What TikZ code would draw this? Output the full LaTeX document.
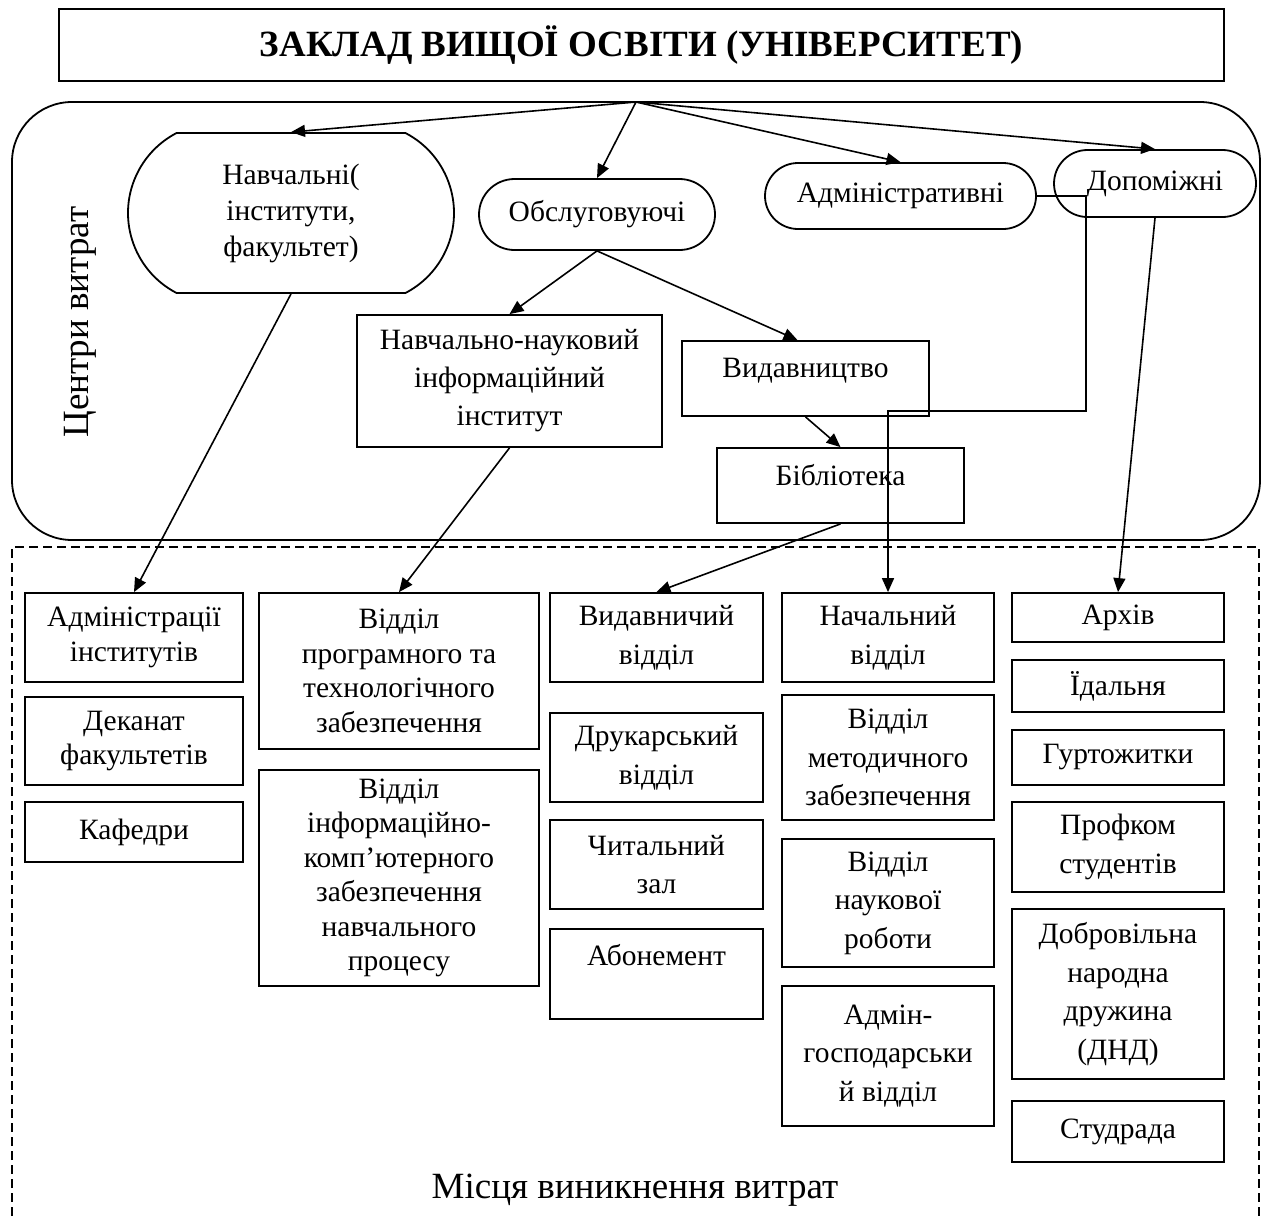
\documentclass[tikz,border=0pt]{standalone}
\usepackage{fontspec}
\setmainfont{Liberation Serif}[BoldFont={Liberation Serif Bold}]
\usepackage{tikz}
\usetikzlibrary{shapes.misc}
\usetikzlibrary{arrows.meta}

\begin{document}
\begin{tikzpicture}[x=1pt, y=-1pt, line width=1.8pt,
  every node/.style={align=center, inner sep=2pt},
  costc/.style={draw, rounded rectangle, font=\fontsize{29.5}{36}\selectfont},
  costbox/.style={draw, rectangle, font=\fontsize{29.5}{38}\selectfont},
  place/.style={draw, rectangle, font=\fontsize{29.5}{34.5}\selectfont},
  placewide/.style={place, font=\fontsize{29.5}{38.5}\selectfont},
  arr/.style={-{Triangle[length=14pt,width=12pt]}, line width=1.6pt}]
\useasboundingbox (0,0) rectangle (1265,1216);

\node[draw, minimum width=1165pt, minimum height=72pt, font=\fontsize{37}{40}\selectfont\bfseries] (U) at (641.5,45) {ЗАКЛАД ВИЩОЇ ОСВІТИ (УНІВЕРСИТЕТ)};

\draw[rounded corners=60pt] (12,102) rectangle (1260,540);
\coordinate (hub) at (636,102);
\node[rotate=90, font=\fontsize{37}{40}\selectfont] (CT) at (80,322) {Центри витрат};

\node[costc, rounded rectangle arc length=125, minimum width=330pt, minimum height=160pt] (C1) at (291,213) {Навчальні(\\інститути,\\факультет)};
\node[costc, minimum width=240pt, minimum height=71pt] (C2) at (597,214.5) {Обслуговуючі};
\node[costc, minimum width=275pt, minimum height=66pt] (C3) at (900.5,196) {Адміністративні};
\node[costc, minimum width=206pt, minimum height=67pt] (C4) at (1155,183.5) {Допоміжні};

\node[costbox, minimum width=305pt, minimum height=132pt] (C2A) at (509.5,381) {Навчально-науковий\\інформаційний\\інститут};
\node[costbox, minimum width=247pt, minimum height=75pt, text depth=22pt] (C2B) at (805.5,378.5) {Видавництво};
\node[costbox, minimum width=247pt, minimum height=75pt, text depth=22pt] (C2C) at (840.5,485.5) {Бібліотека};

\draw[line width=1.4pt, dash pattern=on 9pt off 5pt] (12,1216) |- (1259,547) -- (1259,1216);
\node[font=\fontsize{37}{40}\selectfont] (MV) at (635,1190) {Місця виникнення витрат};

\node[place, minimum width=218pt, minimum height=89pt] (M1N1) at (134,637.5) {Адміністрації\\інститутів};
\node[place, minimum width=218pt, minimum height=88pt] (M1N2) at (134,741) {Деканат\\факультетів};
\node[place, minimum width=218pt, minimum height=60pt] (M1N3) at (134,832) {Кафедри};

\node[place, minimum width=280pt, minimum height=156pt] (M2N1) at (399,671) {Відділ\\програмного та\\технологічного\\забезпечення};
\node[place, minimum width=280pt, minimum height=216pt] (M2N2) at (399,878) {Відділ\\інформаційно-\\комп’ютерного\\забезпечення\\навчального\\процесу};

\node[placewide, minimum width=213pt, minimum height=89pt] (M3N1) at (656.5,637.5) {Видавничий\\відділ};
\node[placewide, minimum width=213pt, minimum height=89pt] (M3N2) at (656.5,757.5) {Друкарський\\відділ};
\node[placewide, minimum width=213pt, minimum height=89pt] (M3N3) at (656.5,864.5) {Читальний\\зал};
\node[placewide, minimum width=213pt, minimum height=90pt, text depth=38pt] (M3N4) at (656.5,974) {Абонемент};

\node[placewide, minimum width=212pt, minimum height=89pt] (M4N1) at (888,637.5) {Начальний\\відділ};
\node[placewide, minimum width=212pt, minimum height=125pt] (M4N2) at (888,757.5) {Відділ\\методичного\\забезпечення};
\node[placewide, minimum width=212pt, minimum height=128pt] (M4N3) at (888,903) {Відділ\\наукової\\роботи};
\node[placewide, minimum width=212pt, minimum height=140pt] (M4N4) at (888,1056) {Адмін-\\господарськи\\й відділ};

\node[placewide, minimum width=212pt, minimum height=49pt] (M5N1) at (1118,617.5) {Архів};
\node[placewide, minimum width=212pt, minimum height=52pt] (M5N2) at (1118,686) {Їдальня};
\node[placewide, minimum width=212pt, minimum height=55pt] (M5N3) at (1118,757.5) {Гуртожитки};
\node[placewide, minimum width=212pt, minimum height=90pt] (M5N4) at (1118,847) {Профком\\студентів};
\node[placewide, minimum width=212pt, minimum height=170pt] (M5N5) at (1118,994) {Добровільна\\народна\\дружина\\(ДНД)};
\node[placewide, minimum width=212pt, minimum height=61pt] (M5N6) at (1118,1131.5) {Студрада};

\coordinate (turn) at (1086,411);

\draw[arr] (hub) -- (C1.north);
\draw[arr] (hub) -- (C2.north);
\draw[arr] (hub) -- (C3.north);
\draw[arr] (hub) -- (C4.north);
\draw[arr] (C2.south) -- (C2A.north);
\draw[arr] (C2.south) -- ([xshift=-8pt]C2B.north);
\draw[arr] (C2B.south) -- (C2C.north);
\draw[arr] (C1.south) -- (M1N1.north);
\draw[arr] (C2A.south) -- (M2N1.north);
\draw[arr] (C2C.south) -- (M3N1.north);
\draw[arr] (C3.east) -| (turn) -| (M4N1.north);
\draw[arr] (C4.south) -- (M5N1.north);
\end{tikzpicture}
\end{document}
